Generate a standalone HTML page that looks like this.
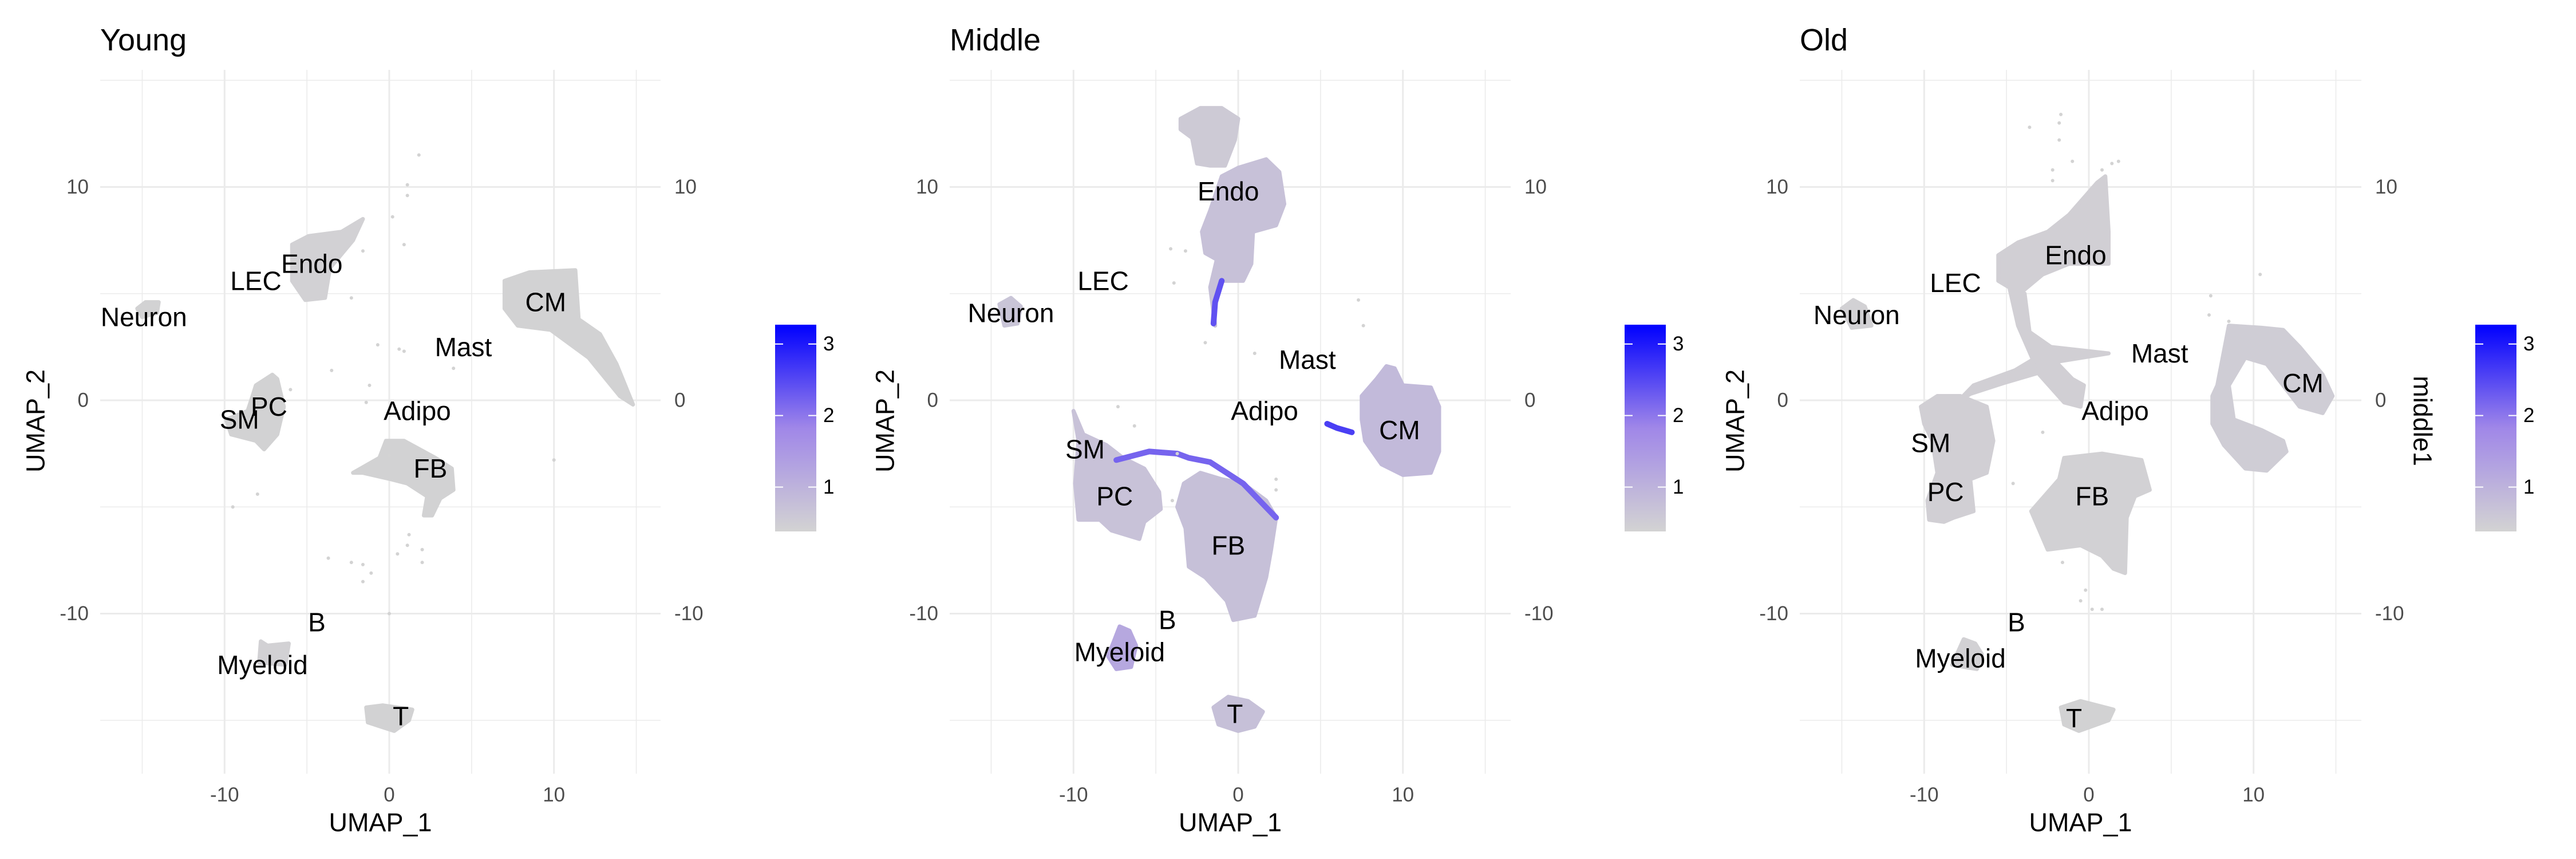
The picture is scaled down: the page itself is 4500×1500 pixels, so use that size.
<!DOCTYPE html>
<html><head><meta charset="utf-8"><style>
html,body{margin:0;padding:0;background:#fff;}
svg{display:block;font-family:"Liberation Sans",sans-serif;}
</style></head><body>
<svg id="chart" width="4500" height="1500" viewBox="0 0 4500 1500" xmlns="http://www.w3.org/2000/svg"></svg>
<script>
// ---------- data ----------
const panelTitles = ["Young", "Middle", "Old"];
const xTicks = [-10, 0, 10];
const yTicks = [-10, 0, 10];
const legendTicks = [1, 2, 3];
const legendRange = [0.38, 3.27];

const youngClusters = [
 {name:"endo", v:0.42, pts:[[-5.9,7.3],[-4.9,7.7],[-2.9,7.9],[-1.6,8.5],[-2.2,7.5],[-3.6,6.2],[-3.9,4.8],[-5.1,4.7],[-5.9,5.6]]},
 {name:"cm", v:0.4, pts:[[7.0,5.6],[8.5,6.0],[11.3,6.1],[11.5,3.8],[12.8,3.1],[13.8,1.7],[14.8,-0.2],[14.0,0.2],[12.1,2.0],[9.8,3.3],[7.8,3.5],[7.0,4.3]]},
 {name:"neuron", v:0.4, pts:[[-15.3,4.3],[-14.8,4.6],[-14.0,4.6],[-14.1,4.1],[-15.0,3.9]]},
 {name:"sm-pc", v:0.4, pts:[[-8.1,0.7],[-7.1,1.2],[-6.8,1.0],[-6.4,-0.3],[-6.8,-1.6],[-7.6,-2.3],[-8.1,-1.9],[-9.6,-1.6],[-9.9,-0.9],[-8.6,-0.5],[-8.3,0.2]]},
 {name:"fb", v:0.4, pts:[[-0.2,-1.9],[0.9,-1.9],[2.8,-2.7],[3.8,-3.2],[3.9,-4.2],[3.1,-4.6],[2.6,-5.4],[2.1,-5.4],[2.3,-4.5],[1.1,-3.9],[0.1,-3.7],[-1.6,-3.4],[-2.2,-3.4],[-0.6,-2.7]]},
 {name:"myeloid", v:0.42, pts:[[-7.8,-11.3],[-7.4,-11.5],[-6.1,-11.4],[-6.3,-12.4],[-7.9,-12.3]]},
 {name:"t-cell", v:0.4, pts:[[-1.4,-14.4],[-0.4,-14.3],[1.4,-14.5],[1.2,-15.0],[0.3,-15.5],[-1.3,-15.1]]}
];
const middleClusters = [
 {name:"endo-top", v:0.55, pts:[[-3.5,13.2],[-2.3,13.7],[-1.0,13.7],[0,13.2],[-0.2,12.2],[-0.8,11.0],[-1.7,11.0],[-2.5,11.1],[-2.8,12.3],[-3.5,12.7]]},
 {name:"endo", v:0.72, pts:[[0,10.9],[1.7,11.3],[2.5,10.7],[2.8,9.2],[2.3,8.2],[0.9,7.9],[0.8,6.4],[0.3,5.6],[-1.0,5.6],[-1.5,4.3],[-1.4,3.5],[-1.7,5.3],[-1.3,6.6],[-2.0,6.9],[-2.2,7.9],[-1.7,8.9],[-1.0,10.5]]},
 {name:"neuron", v:0.65, pts:[[-14.5,4.5],[-13.8,4.8],[-13.2,4.4],[-13.4,3.6],[-14.2,3.5]]},
 {name:"cm", v:0.85, pts:[[7.5,0.2],[8.4,1.0],[9.0,1.6],[9.5,1.5],[10.0,0.7],[11.7,0.6],[12.2,-0.3],[12.2,-2.4],[11.7,-3.4],[10.0,-3.5],[8.7,-3.0],[7.7,-1.9],[7.5,-0.9]]},
 {name:"sm-pc", v:0.7, pts:[[-10.0,-0.5],[-9.4,-1.6],[-8.0,-2.1],[-7.0,-2.7],[-5.7,-3.2],[-4.8,-4.3],[-4.7,-5.1],[-5.7,-5.7],[-6.0,-6.5],[-7.7,-6.1],[-8.4,-5.6],[-9.7,-5.6],[-9.9,-3.9],[-9.7,-1.9]]},
 {name:"fb", v:0.75, pts:[[-3.3,-3.9],[-2.3,-3.4],[-1.0,-3.7],[0.3,-3.9],[1.7,-4.7],[2.3,-5.5],[2.0,-7.0],[1.7,-8.3],[1.0,-10.1],[-0.3,-10.3],[-0.7,-9.4],[-2.0,-8.3],[-3.0,-7.8],[-3.2,-6.0],[-3.7,-5.0]]},
 {name:"myeloid", v:1.2, pts:[[-7.2,-10.6],[-6.6,-10.8],[-6.2,-11.5],[-6.5,-12.5],[-7.4,-12.6],[-7.9,-12.0]]},
 {name:"t-cell", v:0.75, pts:[[-1.5,-14.4],[-0.6,-13.9],[0.6,-14.1],[1.5,-14.6],[1.0,-15.3],[0,-15.5],[-1.2,-15.2]]}
];
const oldClusters = [
 {name:"endo-head", v:0.45, pts:[[-5.5,6.8],[-4.3,7.4],[-2.5,7.9],[-1.2,8.7],[0.5,10.2],[1.0,10.5],[1.2,7.9],[1.2,6.4],[-1.2,6.4],[-2.8,5.9],[-4.2,5.0],[-5.5,5.6]]},
 {name:"endo-stem", v:0.45, pts:[[-4.8,5.2],[-3.9,5.0],[-3.6,3.2],[-2.3,2.5],[1.2,2.2],[-2.0,1.8],[-1.0,1.0],[-0.3,0.7],[-0.5,-0.3],[-1.5,-0.1],[-3.0,1.2],[-4.3,3.5]]},
 {name:"sm-branch", v:0.45, pts:[[-3.0,1.3],[-5.2,0.8],[-7.2,0.3],[-8.0,-0.1],[-7.0,0.7],[-4.5,1.4],[-3.2,2.0]]},
 {name:"neuron", v:0.42, pts:[[-15.0,4.3],[-14.3,4.7],[-13.6,4.4],[-13.2,3.5],[-14.4,3.4]]},
 {name:"sm-pc", v:0.45, pts:[[-10.2,-0.3],[-9.2,0.2],[-7.8,0.2],[-6.2,-0.3],[-5.8,-1.9],[-6.2,-3.4],[-7.2,-3.7],[-7.0,-5.2],[-8.2,-5.5],[-8.8,-5.7],[-9.7,-5.6],[-9.8,-4.7],[-9.2,-3.4],[-9.5,-1.9],[-10.0,-1.1]]},
 {name:"fb", v:0.42, pts:[[-1.5,-2.7],[0.8,-2.5],[3.2,-2.8],[3.7,-4.2],[2.8,-4.5],[2.3,-5.5],[2.2,-8.1],[1.5,-7.9],[0.8,-7.3],[-0.5,-6.8],[-2.5,-7.0],[-3.5,-5.2],[-1.8,-3.7]]},
 {name:"cm", v:0.5, pts:[[7.5,0.2],[7.8,0.7],[8.5,3.5],[10.5,3.4],[11.8,3.3],[12.8,2.5],[14.2,1.2],[14.8,0.2],[14.2,-0.6],[12.8,-0.3],[11.8,0.7],[10.8,1.7],[9.5,2.0],[8.5,0.7],[8.8,-0.9],[10.5,-1.4],[11.8,-1.9],[12.0,-2.4],[10.8,-3.3],[9.5,-3.2],[8.2,-2.1],[7.5,-1.1]]},
 {name:"myeloid", v:0.42, pts:[[-7.6,-11.2],[-6.9,-11.4],[-6.5,-11.9],[-6.8,-12.6],[-8.3,-12.4]]},
 {name:"t-cell", v:0.4, pts:[[-1.7,-14.4],[-0.5,-14.1],[1.5,-14.5],[1.2,-15.0],[-0.6,-15.5],[-1.5,-15.2]]}
];
const middleStreaks = [
 {name:"pc-fb-arc", v:2.2, pts:[[-7.4,-2.8],[-5.4,-2.4],[-3.7,-2.5],[-3.0,-2.7],[-1.7,-2.9],[0.3,-3.9],[2.3,-5.5]]},
 {name:"adipo-streak", v:2.6, pts:[[5.4,-1.1],[6.0,-1.3],[6.9,-1.5]]},
 {name:"endo-stalk", v:2.4, pts:[[-1.0,5.6],[-1.4,4.6],[-1.5,3.6]]}
];
const youngDots = [[1.8,11.5],[1.1,10.1],[1.1,9.6],[0.2,8.6],[0.9,7.3],[-1.6,7.0],[-2.3,4.8],[-0.7,2.6],[0.6,2.4],[0.9,2.3],[3.9,1.5],[-3.5,1.4],[-6.0,0.5],[-1.2,0.7],[-1.4,-0.1],[0.0,-2.6],[-9.5,-5.0],[-8.0,-4.4],[10.0,-2.8],[1.2,-6.3],[1.1,-6.8],[0.5,-7.2],[2.0,-7.0],[2.0,-7.6],[-3.7,-7.4],[-1.6,-7.7],[-1.1,-8.1],[-1.6,-8.5],[0.0,-10.0],[-2.3,-7.6]];
const middleDots = [[-4.1,7.1],[-3.2,7.0],[-3.9,5.5],[-2.0,2.7],[1.0,2.2],[7.3,4.7],[7.6,3.5],[-7.3,-0.3],[-6.3,-1.2],[2.3,-3.7],[2.3,-4.2],[-4.0,-4.7],[-3.7,-2.5]];
const oldDots = [[-1.7,13.4],[-1.8,13.0],[-3.6,12.8],[-1.8,12.2],[-2.2,10.8],[-2.2,10.3],[0.8,10.8],[1.4,11.1],[1.8,11.2],[-1.0,11.2],[7.4,4.9],[10.4,5.9],[7.3,4.0],[8.5,3.7],[-2.8,-1.5],[-4.6,-3.9],[-0.5,-9.4],[-0.2,-8.9],[0.2,-9.8],[0.8,-9.8],[-1.6,-7.6]];

const labelNames = ["Endo","LEC","Neuron","Mast","CM","PC","SM","Adipo","FB","B","Myeloid","T"];
const youngLabelX = [-4.7,-8.1,-14.9,4.5,9.5,-7.3,-9.1,1.7,2.5,-4.4,-7.7,0.7];
const youngLabelY = [6.4,5.6,3.9,2.5,4.6,-0.3,-0.9,-0.5,-3.2,-10.4,-12.4,-14.8];
const middleLabelX = [-0.6,-8.2,-13.8,4.2,9.8,-7.5,-9.3,1.6,-0.6,-4.3,-7.2,-0.2];
const middleLabelY = [9.8,5.6,4.1,1.9,-1.4,-4.5,-2.3,-0.5,-6.8,-10.3,-11.8,-14.7];
const oldLabelX = [-0.8,-8.1,-14.1,4.3,13.0,-8.7,-9.6,1.6,0.2,-4.4,-7.8,-0.9];
const oldLabelY = [6.8,5.5,4.0,2.2,0.8,-4.3,-2.0,-0.5,-4.5,-10.4,-12.1,-14.9];

// ---------- layout ----------
const panels = [
 {title:panelTitles[0], left:175, right:1154, x0:680, clusters:youngClusters, streaks:[], dots:youngDots, lx:youngLabelX, ly:youngLabelY, legX:1354, tag:"young"},
 {title:panelTitles[1], left:1659, right:2639, x0:2163, clusters:middleClusters, streaks:middleStreaks, dots:middleDots, lx:middleLabelX, ly:middleLabelY, legX:2838, tag:"middle"},
 {title:panelTitles[2], left:3144, right:4125, x0:3649, clusters:oldClusters, streaks:[], dots:oldDots, lx:oldLabelX, ly:oldLabelY, legX:4324, tag:"old"}
];
const SX = 28.77, SY = 37.25, Y0 = 699, TOP = 122, BOT = 1351;
const NS = "http://www.w3.org/2000/svg";
const svg = document.getElementById("chart");

function mk(tag, attrs, parent){ const e=document.createElementNS(NS,tag); for(const k in attrs) e.setAttribute(k,attrs[k]); (parent||svg).appendChild(e); return e; }
function colorFor(v){
  let t=(v-legendRange[0])/(legendRange[1]-legendRange[0]); t=Math.max(0,Math.min(1,t));
  const stops=[[211,211,211],[160,135,232],[0,0,255]];
  let a,b,u; if(t<0.5){a=stops[0];b=stops[1];u=t/0.5;} else {a=stops[1];b=stops[2];u=(t-0.5)/0.5;}
  return "rgb("+a.map((c,i)=>Math.round(c+(b[i]-c)*u)).join(",")+")";
}

panels.forEach(p=>{
  const X = x=>p.x0 + x*SX, Y = y=>Y0 - y*SY;
  const g = mk("g",{});
  
  
  for(let v=-15; v<=15; v+=5){
    const major = v%10===0;
    const vx = mk("line",{x1:X(v),x2:X(v),y1:TOP,y2:BOT,stroke:"#ebebeb","stroke-width":major?3:1.6},g);
    
    
    const hy = Y(v);
    if(hy>=TOP && hy<=BOT){
      const hl = mk("line",{x1:p.left,x2:p.right,y1:hy,y2:hy,stroke:"#ebebeb","stroke-width":major?3:1.6},g);
      
      
    }
  }
  p.clusters.forEach(c=>{
    const col=colorFor(c.v);
    const poly = mk("polygon",{points:c.pts.map(q=>X(q[0])+","+Y(q[1])).join(" "),fill:col,stroke:col,"stroke-width":7,"stroke-linejoin":"round"},g);
    
    
  });
  p.streaks.forEach(s=>{
    const pl = mk("polyline",{points:s.pts.map(q=>X(q[0])+","+Y(q[1])).join(" "),fill:"none",stroke:colorFor(s.v),"stroke-width":10,"stroke-linecap":"round","stroke-linejoin":"round"},g);
    
    
  });
  p.dots.forEach(d=>{
    const c = mk("circle",{cx:X(d[0]),cy:Y(d[1]),r:3,fill:"#d3d3d3"},g);
    
    
  });
  labelNames.forEach((n,i)=>{
    const t = mk("text",{x:X(p.lx[i]),y:Y(p.ly[i]),"font-size":46,"text-anchor":"middle","dominant-baseline":"central",fill:"#000"},g);
    t.textContent=n;
    
    
  });
  const tt = mk("text",{x:p.left,y:88,"font-size":54,fill:"#000"},g);
  tt.textContent=p.title;
  
  
  xTicks.forEach(v=>{
    const t = mk("text",{x:X(v),y:1388,"font-size":35,"text-anchor":"middle","dominant-baseline":"central",fill:"#4d4d4d"},g);
    t.textContent=v;
    
    
  });
  yTicks.forEach(v=>{
    const t = mk("text",{x:p.left-20,y:Y(v),"font-size":35,"text-anchor":"end","dominant-baseline":"central",fill:"#4d4d4d"},g);
    t.textContent=v;
    
    
    const r = mk("text",{x:p.right+24,y:Y(v),"font-size":35,"text-anchor":"start","dominant-baseline":"central",fill:"#4d4d4d"},g);
    r.textContent=v;
    
    
  });
  const xt = mk("text",{x:(p.left+p.right)/2,y:1436,"font-size":45,"text-anchor":"middle","dominant-baseline":"central",fill:"#000"},g);
  xt.textContent="UMAP_1";
  
  
  const ycx = p.left-113;
  const yt = mk("text",{x:ycx,y:735,"font-size":45,"text-anchor":"middle","dominant-baseline":"central",fill:"#000",transform:"rotate(-90 "+ycx+" 735)"},g);
  yt.textContent="UMAP_2";
  
  
  const lg = mk("g",{},g);
  
  
  const gid="grad-"+p.tag;
  const defs=mk("defs",{},lg);
  const gr=mk("linearGradient",{id:gid,x1:0,y1:1,x2:0,y2:0},defs);
  for(let k=0;k<=10;k++){ mk("stop",{offset:(k*10)+"%","stop-color":colorFor(legendRange[0]+(legendRange[1]-legendRange[0])*k/10)},gr); }
  const LT=567, LB=928, LW=72;
  mk("rect",{x:p.legX,y:LT,width:LW,height:LB-LT,fill:"url(#"+gid+")"},lg);
  legendTicks.forEach(v=>{
    const yy = LB - (v-legendRange[0])/(legendRange[1]-legendRange[0])*(LB-LT);
    mk("line",{x1:p.legX,x2:p.legX+14,y1:yy,y2:yy,stroke:"#fff","stroke-width":2},lg);
    mk("line",{x1:p.legX+LW-14,x2:p.legX+LW,y1:yy,y2:yy,stroke:"#fff","stroke-width":2},lg);
    const t = mk("text",{x:p.legX+LW+12,y:yy,"font-size":35,"dominant-baseline":"central",fill:"#000"},lg);
    t.textContent=v;
    
    
  });
});
const sec = mk("text",{x:4232,y:735,"font-size":45,"text-anchor":"middle","dominant-baseline":"central",fill:"#000",transform:"rotate(90 4232 735)"});
sec.textContent="middle1";


</script>
</body></html>
